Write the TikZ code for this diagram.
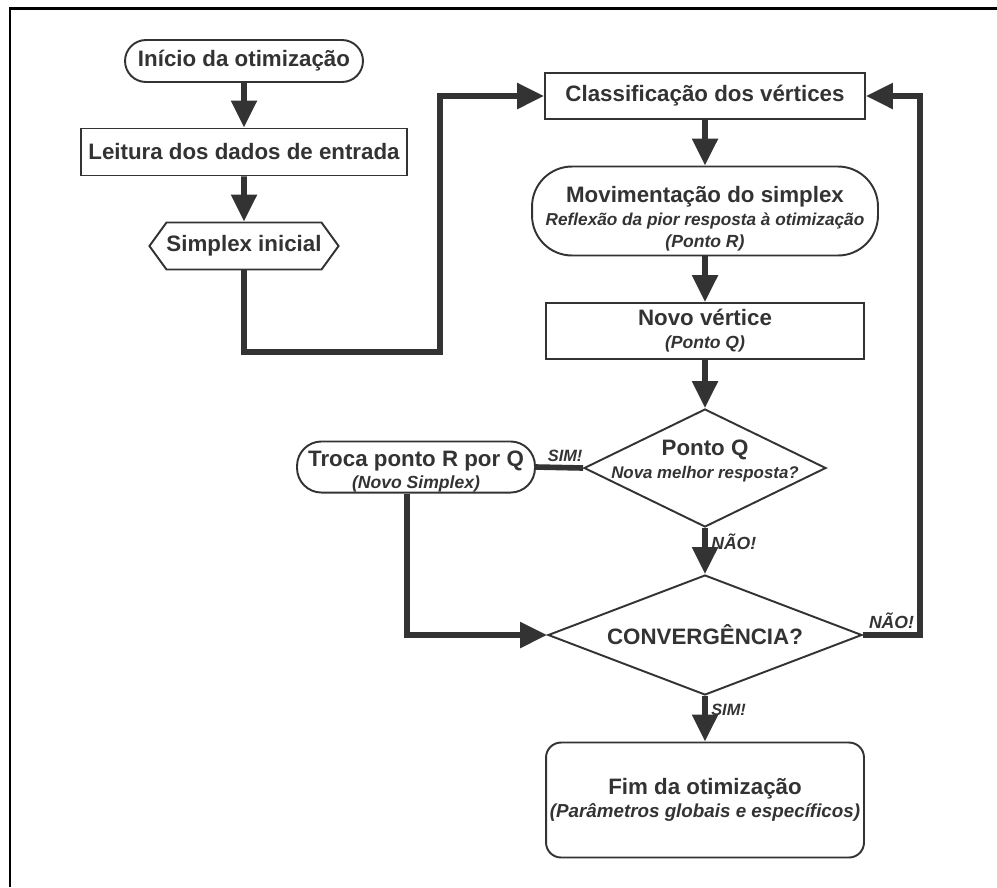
\documentclass[tikz,border=0pt]{standalone}
\usepackage{fontspec}
\setmainfont{Liberation Sans}
\usetikzlibrary{calc,arrows.meta,shapes.geometric,shapes.symbols}
\usepackage{xcolor}
\definecolor{ink}{RGB}{51,51,51}
\newcommand{\titulo}[1]{{\fontsize{12.7}{15}\selectfont\upshape\bfseries #1}}

\begin{document}
\begin{tikzpicture}[x=0.02cm, y=-0.02cm,
		box/.style={draw=ink, line width=1.1pt, fill=white, text=ink, align=center, inner sep=0pt,
			font=\fontsize{10}{13}\selectfont\bfseries\itshape},
		conn/.style={draw=ink, line width=3.2pt},
		seta/.style={conn, -{Triangle[length=0.54cm, width=0.5cm]}},
		lbl/.style={text=ink, inner sep=2pt, font=\fontsize{10}{12}\selectfont\bfseries\itshape}]
		\useasboundingbox (0,0) rectangle (997,887);
		\draw[black, line width=1.7pt] (10,887) -- (10,8) -- (997,8);
		% coluna da esquerda
		\node[box, rounded corners=0.42cm, minimum width=4.76cm, minimum height=0.84cm] (inicio) at (244,61) {\titulo{Início da otimização}};
		\node[box, minimum width=6.52cm, minimum height=0.94cm] (leitura) at (244,152) {\titulo{Leitura dos dados de entrada}};
		\node[box, signal, signal to=west and east, signal pointer angle=108, minimum width=3.72cm, minimum height=0.94cm] (simplex) at (244,246) {\titulo{Simplex inicial}};
		% coluna da direita
		\node[box, minimum width=6.4cm, minimum height=0.92cm] (classif) at (705,96) {\titulo{Classificação dos vértices}};
		\node[box, rounded corners=0.8cm, minimum width=6.92cm, minimum height=1.78cm] (movim) at (705,211)
			{\rule{0pt}{18pt}\titulo{Movimentação do simplex}\\{\fontsize{9.8}{12.5}\selectfont Reflexão da pior resposta à otimização}\\(Ponto R)};
		\node[box, minimum width=6.36cm, minimum height=1.12cm] (novo) at (705,331) {\titulo{Novo vértice}\\(Ponto Q)};
		\node[box, diamond, minimum width=4.84cm, minimum height=2.36cm] (pontoq) at (705,468) {};
		\node[text=ink, align=center, font=\fontsize{9.6}{13}\selectfont\bfseries\itshape] (pontoqtxt) at (705,461) {\titulo{Ponto Q}\\Nova melhor resposta?};
		\node[box, rounded corners=0.49cm, minimum width=4.76cm, minimum height=0.98cm] (troca) at (416,467) {\rule{0pt}{14pt}\titulo{Troca ponto R por Q}\\(Novo Simplex)};
		\node[box, diamond, aspect=2.6, minimum width=6.28cm, minimum height=2.4cm] (conv) at (705,635) {\titulo{CONVERGÊNCIA?}};
		\node[box, rounded corners=0.3cm, minimum width=6.36cm, minimum height=2.3cm] (fim) at (705,800)
			{\titulo{Fim da otimização}\\{\fontsize{10.7}{13.5}\selectfont (Parâmetros globais e específicos)}};
		\coordinate (c1) at (440,352);
		\coordinate (c2) at (920,635);
		% ligacoes
		\draw[seta] (inicio) -- (leitura);
		\draw[seta] (leitura) -- (simplex);
		\draw[seta] (simplex.south) |- (c1) |- (classif.west);
		\draw[seta] (classif) -- (movim);
		\draw[seta] (movim) -- (novo);
		\draw[seta] (novo) -- (pontoq);
		\draw[conn] (pontoq.west) -- (troca.east) node[pos=0.38, above, lbl, font=\fontsize{9.3}{11}\selectfont\bfseries\itshape] {SIM!};
		\draw[seta] (pontoq.south) -- (conv.north) node[pos=0.3, right, lbl] {NÃO!};
		\draw[seta] ([xshift=-0.18cm]troca.south) |- (conv.west);
		\draw[seta] (conv.east) -- (c2) node[pos=0.5, above, lbl] {NÃO!} |- (classif.east);
		\draw[seta] (conv.south) -- (fim.north) node[pos=0.3, right, lbl, font=\fontsize{9.3}{11}\selectfont\bfseries\itshape] {SIM!};
\end{tikzpicture}
\end{document}
